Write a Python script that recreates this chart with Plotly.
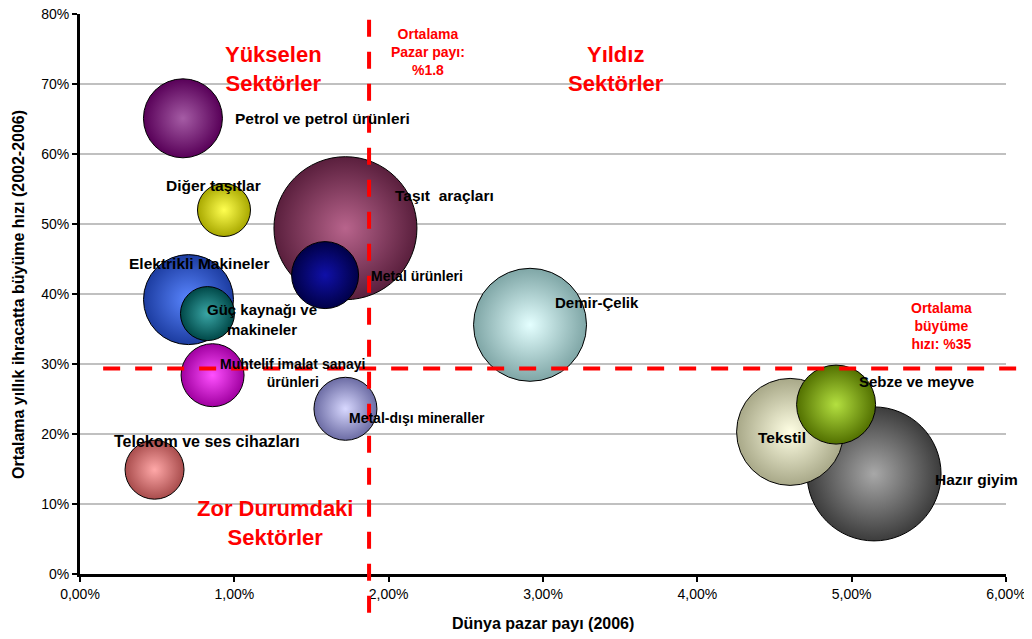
import plotly.graph_objects as go

# sektörler (çizim sırası: büyük balonlar önce)
sektorler = ["Petrol ve petrol ürünleri", "Diğer taşıtlar", "Taşıt  araçları", "Metal ürünleri",
             "Elektrikli Makineler", "Güç kaynağı ve<br>makineler", "Muhtelif imalat sanayi<br>ürünleri",
             "Metal-dışı mineraller", "Telekom ve ses cihazları", "Demir-Çelik",
             "Hazır giyim", "Tekstil", "Sebze ve meyve"]
pazar_payi = [0.667, 0.933, 1.720, 1.588, 0.703, 0.826, 0.859, 1.720, 0.483, 2.916, 5.145, 4.601, 4.899]
buyume = [65.1, 52.0, 49.4, 42.7, 39.2, 37.2, 28.4, 23.6, 14.9, 35.6, 14.3, 20.3, 24.2]
boyut = [79, 53, 143, 67, 90, 54, 63, 63, 59, 113, 134, 107, 79]

kenar_renk = ["#580058", "#a8a800", "#5a1f3d", "#000048", "#1c3ca0", "#004848", "#a000a0",
              "#6c6ca4", "#a84c4c", "#7fa6a6", "#3c3c3c", "#a8a888", "#527000"]
merkez_renk = ["#a55ca5", "#ffff50", "#b8648c", "#1010a8", "#5a86ff", "#3aa6a6", "#ff50ff",
               "#d8d8ff", "#ffa8a8", "#e4ffff", "#a8a8a8", "#ffffe4", "#b4e040"]

# etiket kaydırmaları (piksel) ve hizalama
etiket_dx = [50, -10, 48, 44, 10, 55, 80, 2, 52, 23, 59, -8, 21]
etiket_dy = [0, 25, 33, -1, 36, -6, 2, -9, 28, 22, -6, -6, 23]
etiket_hiza = ["left", "center", "left", "left", "center", "center", "center",
               "left", "center", "left", "left", "center", "left"]
etiket_boyut = [15.5, 15.5, 15.5, 14, 15.5, 15, 14, 14, 16, 15, 15.5, 15.5, 15]

ort_pazar = 1.873
ort_buyume = 29.35

x_ticks = [0, 1, 2, 3, 4, 5, 6]
x_text = ["0,00%", "1,00%", "2,00%", "3,00%", "4,00%", "5,00%", "6,00%"]
y_ticks = [0, 10, 20, 30, 40, 50, 60, 70, 80]
y_text = ["0%", "10%", "20%", "30%", "40%", "50%", "60%", "70%", "80%"]

fig = go.Figure()

fig.add_trace(go.Scatter(
    x=pazar_payi, y=buyume, mode="markers",
    marker=dict(size=boyut, sizemode="diameter", sizeref=1, opacity=1,
                color=kenar_renk,
                gradient=dict(type="radial", color=merkez_renk),
                line=dict(color="black", width=1)),
    hoverinfo="text", text=sektorler, showlegend=False,
))

annotations = []
for i, s in enumerate(sektorler):
    annotations.append(dict(
        x=pazar_payi[i], y=buyume[i], text="<b>" + s + "</b>", showarrow=False,
        xanchor=etiket_hiza[i], yanchor="middle", align="center",
        xshift=etiket_dx[i], yshift=etiket_dy[i],
        font=dict(size=etiket_boyut[i], color="black"),
    ))

kirmizi = "#ff0000"
annotations += [
    dict(x=1.253, y=72.1, text="<b>Yükselen<br>Sektörler</b>", showarrow=False,
         font=dict(size=22, color=kirmizi)),
    dict(x=3.47, y=72.1, text="<b>Yıldız<br>Sektörler</b>", showarrow=False,
         font=dict(size=22, color=kirmizi)),
    dict(x=1.263, y=7.3, text="<b>Zor Durumdaki<br>Sektörler</b>", showarrow=False,
         font=dict(size=22, color=kirmizi)),
    dict(x=2.255, y=74.6, text="<b>Ortalama<br>Pazar payı:<br>%1.8</b>", showarrow=False,
         font=dict(size=14, color=kirmizi)),
    dict(x=5.58, y=35.4, text="<b>Ortalama<br>büyüme<br>hızı: %35</b>", showarrow=False,
         font=dict(size=14, color=kirmizi)),
    dict(x=-0.067, y=0.5, xref="paper", yref="paper", textangle=-90, showarrow=False,
         xanchor="center", yanchor="middle",
         text="<b>Ortalama yıllık ihracatta büyüme hızı (2002-2006)</b>", font=dict(size=16)),
    dict(x=0.5, y=-0.088, xref="paper", yref="paper", showarrow=False,
         xanchor="center", yanchor="middle",
         text="<b>Dünya pazar payı (2006)</b>", font=dict(size=16)),
]

shapes = [
    dict(type="line", xref="x", yref="paper", x0=ort_pazar, x1=ort_pazar, y0=-0.069, y1=0.995,
         line=dict(color=kirmizi, width=4, dash="17px,15px"), layer="above"),
    dict(type="line", xref="paper", yref="y", x0=0.025, x1=1.03, y0=ort_buyume, y1=ort_buyume,
         line=dict(color=kirmizi, width=4, dash="17px,15px"), layer="above"),
]

# sayfa gövdesinin 8px kenar boşluğu hesaba katıldı
fig.update_layout(
    width=1032, height=639,
    margin=dict(l=72, r=34, t=6, b=73, autoexpand=False),
    plot_bgcolor="white", paper_bgcolor="white",
    font=dict(family="Liberation Sans, Arial, sans-serif", color="black", size=14),
    annotations=annotations, shapes=shapes,
    xaxis=dict(range=[0, 6], tickvals=x_ticks, ticktext=x_text, showgrid=False, zeroline=False,
               showline=True, linecolor="black", linewidth=3, ticks="outside", ticklen=5,
               tickwidth=2, tickcolor="black", automargin=False, ticklabeloverflow="allow"),
    yaxis=dict(range=[0, 80], tickvals=y_ticks, ticktext=y_text, showgrid=True,
               gridcolor="#c0c0c0", gridwidth=2, zeroline=False,
               showline=True, linecolor="black", linewidth=3, ticks="outside", ticklen=5,
               tickwidth=2, tickcolor="black", automargin=False, ticklabeloverflow="allow"),
)

fig.write_html("out.html")
